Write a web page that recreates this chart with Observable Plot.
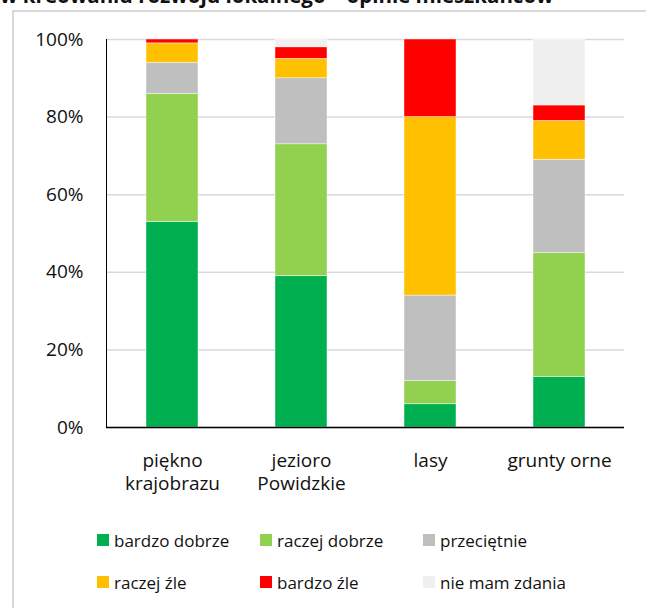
<!DOCTYPE html>
<html>
<head>
<meta charset="utf-8">
<script src="https://cdn.jsdelivr.net/npm/d3@7"></script>
<script src="https://cdn.jsdelivr.net/npm/@observablehq/plot@0.6"></script>
<style>
  html, body { margin: 0; padding: 0; background: #fff; width: 646px; height: 608px; overflow: hidden; }
  body { position: relative; font-family: "Open Sans", sans-serif; color: #111; }
  #frame { position: absolute; left: 12px; top: 10px; width: 700px; height: 700px; border: 2px solid #d9d9d9; box-sizing: border-box; }
  #title { position: absolute; left: 0; top: -15px; font-size: 20.5px; font-weight: 700; line-height: 20px; white-space: nowrap; }
  #chart { position: absolute; left: 0; top: 0; }
  #legend { position: absolute; left: 97px; top: 528px; display: grid; grid-template-columns: repeat(3, 163px); row-gap: 18px; font-size: 17px; }
  .item { display: flex; align-items: center; height: 24px; white-space: nowrap; }
  .sw { width: 12px; height: 12px; margin-right: 5px; flex: none; }
</style>
</head>
<body>
<div id="frame"></div>
<div id="title">w kreowaniu rozwoju lokalnego – opinie mieszkańców</div>
<div id="chart"></div>
<div id="legend"></div>
<script>
const categories = ["piękno krajobrazu", "jezioro Powidzkie", "lasy", "grunty orne"];
const labelLine1 = ["piękno", "jezioro", "lasy", "grunty orne"];
const labelLine2 = ["krajobrazu", "Powidzkie", "", ""];
const series = ["bardzo dobrze", "raczej dobrze", "przeciętnie", "raczej źle", "bardzo źle", "nie mam zdania"];
const colors = ["#00B050", "#92D050", "#BFBFBF", "#FFC000", "#FF0000", "#F0F0F0"];
const bardzoDobrze = [53, 39, 6, 13];
const raczejDobrze = [33, 34, 6, 32];
const przecietnie = [8, 17, 22, 24];
const raczejZle = [5, 5, 46, 10];
const bardzoZle = [1, 3, 20, 4];
const nieMamZdania = [0, 2, 0, 17];
const yTicks = [0, 20, 40, 60, 80, 100];

const seriesValues = [bardzoDobrze, raczejDobrze, przecietnie, raczejZle, bardzoZle, nieMamZdania];
const data = [];
categories.forEach((c, i) => {
  series.forEach((s, j) => {
    data.push({category: c, series: s, value: seriesValues[j][i]});
  });
});

const chart = Plot.plot({
  width: 646,
  height: 510,
  marginLeft: 106,
  marginRight: 22,
  marginTop: 39,
  marginBottom: 83,
  style: {background: "transparent", fontFamily: "Open Sans, sans-serif", fontSize: "19px", color: "#111"},
  x: {domain: categories, paddingInner: 0.6, paddingOuter: 0.3, axis: null},
  y: {domain: [0, 100], ticks: yTicks, tickFormat: d => d + "%", tickSize: 0, tickPadding: 23, label: null},
  color: {domain: series, range: colors},
  marks: [
    Plot.gridY(yTicks, {stroke: "#d9d9d9", strokeOpacity: 1, strokeWidth: 1.5}),
    Plot.barY(data, {x: "category", y: "value", fill: "series", stroke: "white", strokeOpacity: 0.6, strokeWidth: 0.75}),
    Plot.frame({anchor: "left", stroke: "black", strokeWidth: 1}),
    Plot.ruleY([0], {stroke: "black", strokeWidth: 1.5}),
    Plot.text(categories, {x: d => d, text: (d, i) => labelLine1[i], frameAnchor: "bottom", lineAnchor: "top", dy: 26, fontSize: 19, fill: "#111"}),
    Plot.text(categories, {x: d => d, text: (d, i) => labelLine2[i], frameAnchor: "bottom", lineAnchor: "top", dy: 49, fontSize: 19, fill: "#111"})
  ]
});
document.getElementById("chart").appendChild(chart);

const legend = document.getElementById("legend");
series.forEach((s, i) => {
  const item = document.createElement("div");
  item.className = "item";
  const sw = document.createElement("span");
  sw.className = "sw";
  sw.style.background = colors[i];
  const t = document.createElement("span");
  t.textContent = s;
  item.appendChild(sw);
  item.appendChild(t);
  legend.appendChild(item);
});
</script>
</body>
</html>
